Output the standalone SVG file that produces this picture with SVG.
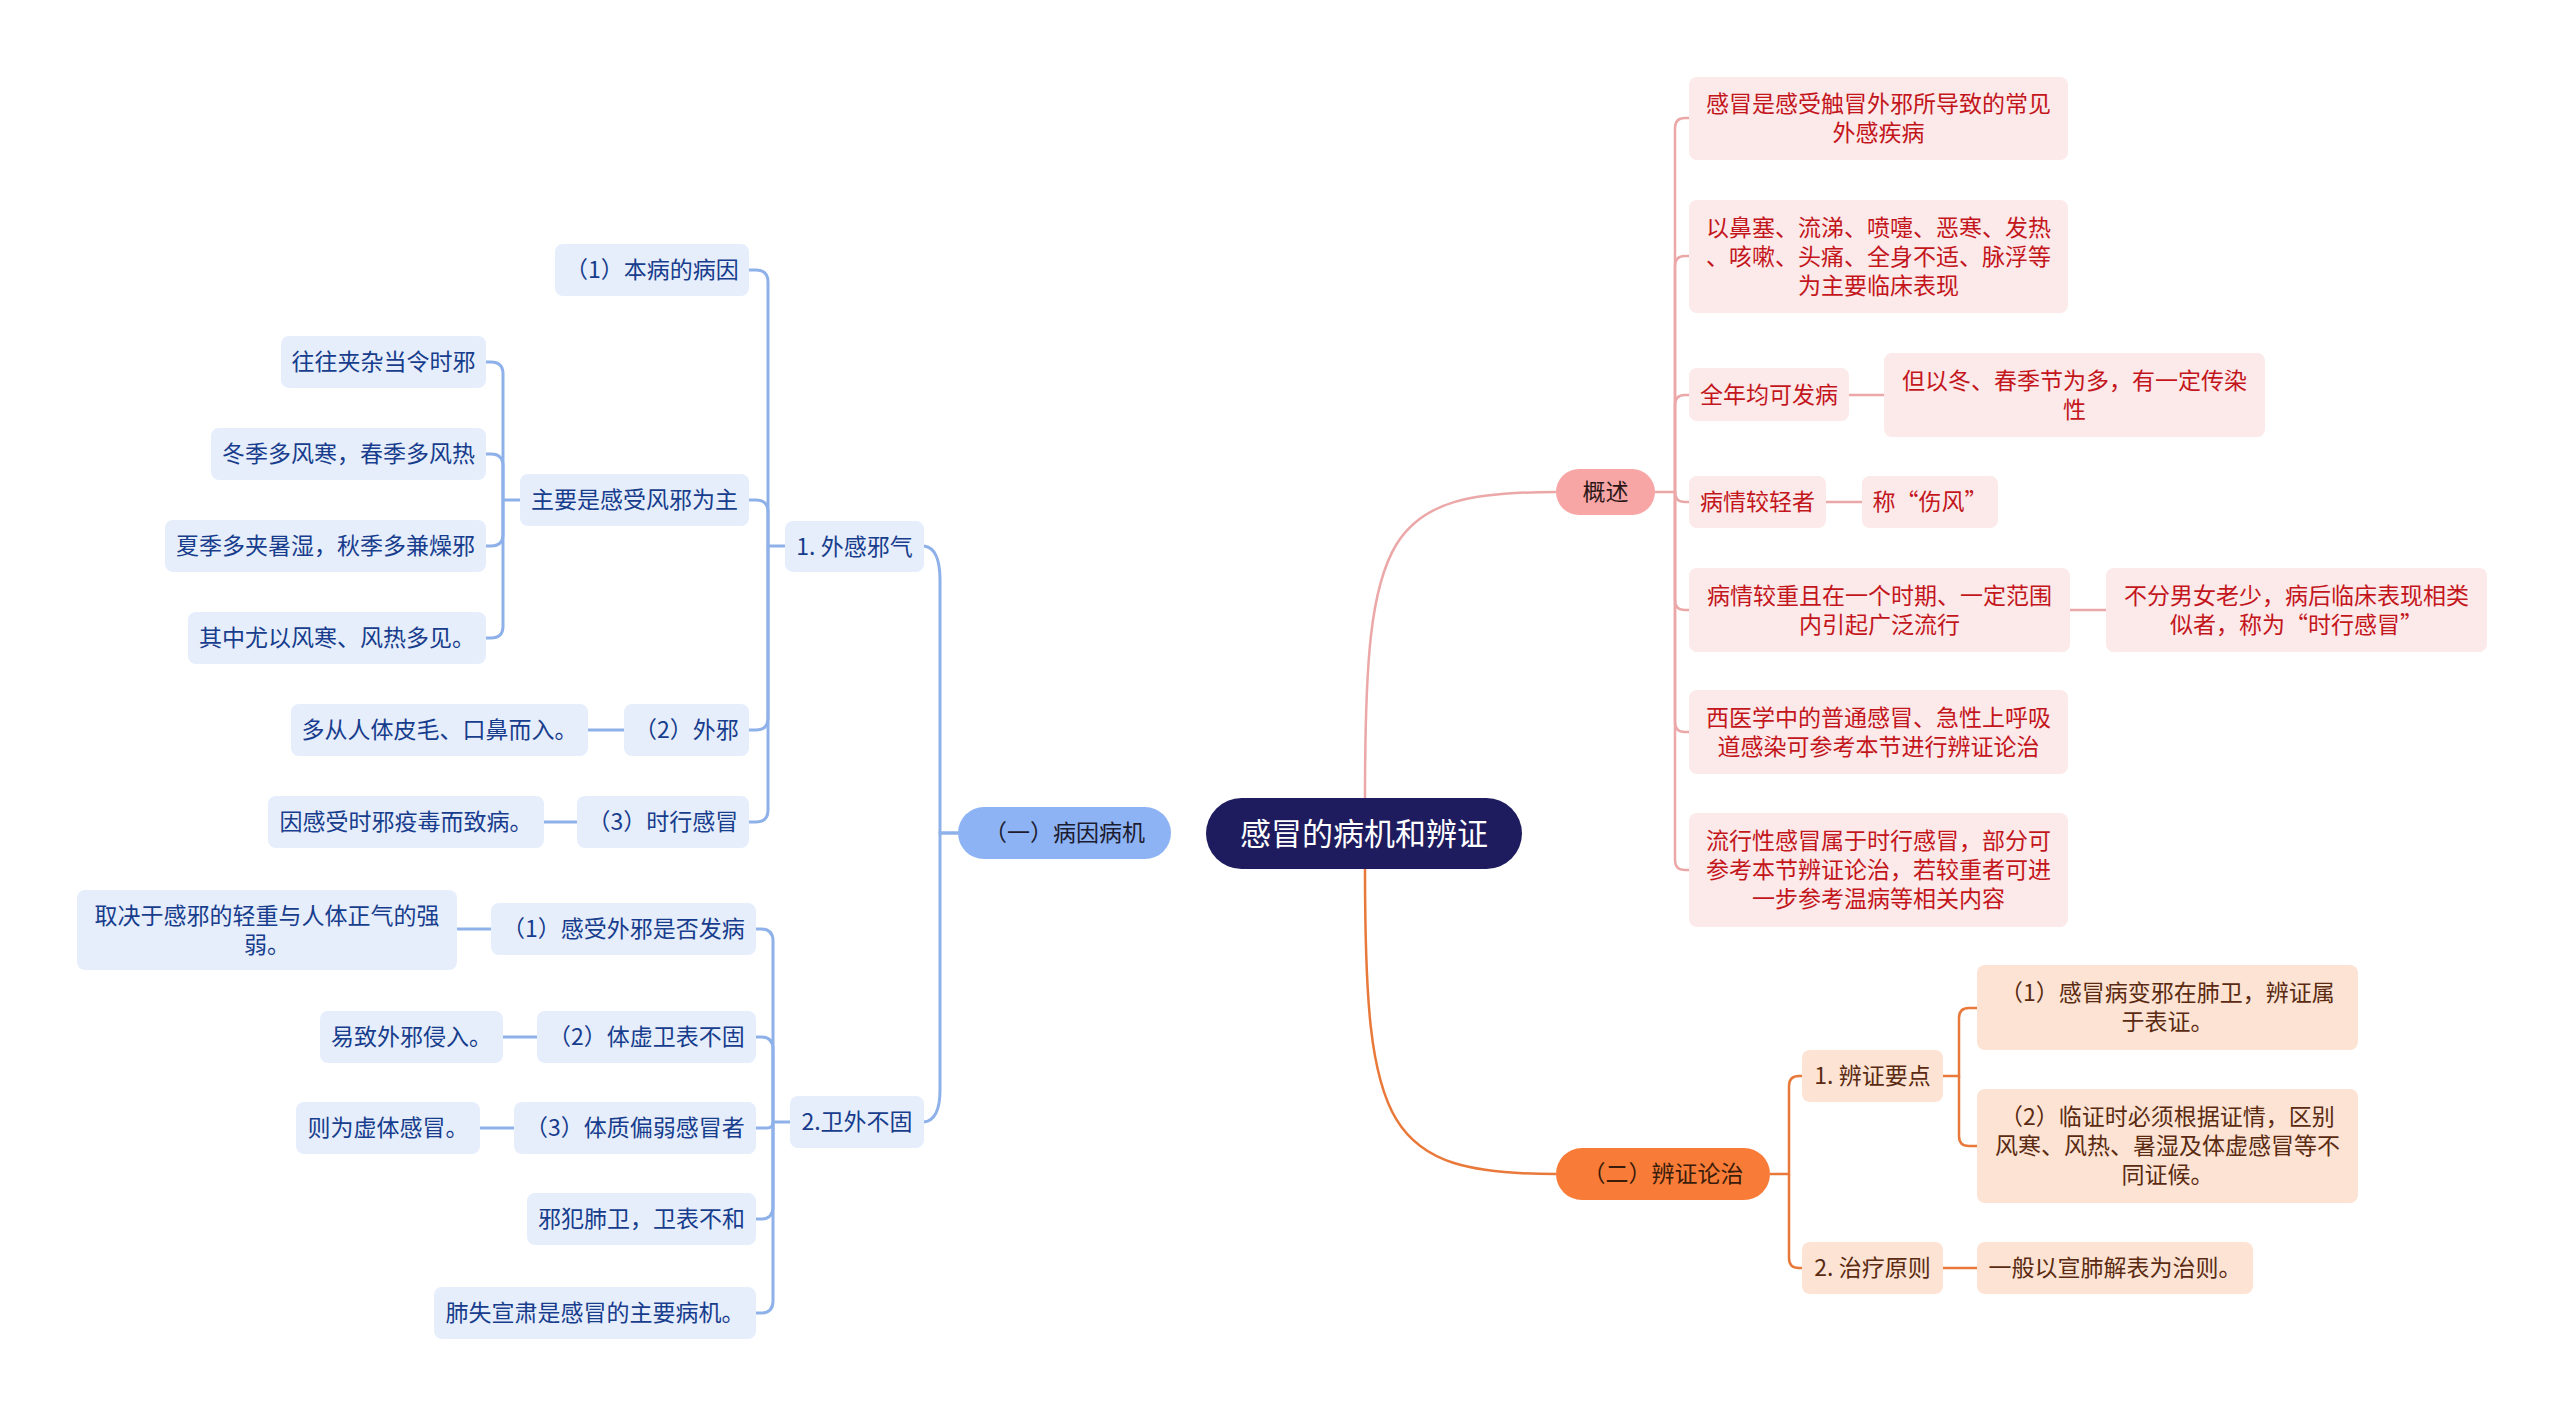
<svg xmlns="http://www.w3.org/2000/svg" width="2560" height="1417" viewBox="0 0 2560 1417">
<style>
text{font-family:"Noto Sans CJK SC","Noto Sans",sans-serif;font-size:23px;text-anchor:middle;dominant-baseline:central;transform:translate(0px,-2px)}
.root rect{fill:#1e1c5e}
.root text{fill:#ffffff;font-size:31px}
.mb rect{fill:#8db3f4}
.mb text{fill:#1c1c30}
.b rect{fill:#e6eefc}
.b text{fill:#173d8c}
.mp rect{fill:#f8a5a5}
.mp text{fill:#2a1616}
.p rect{fill:#fce9e9}
.p text{fill:#c3161c}
.mo rect{fill:#f87c37}
.mo text{fill:#3b1c0b}
.o rect{fill:#fde3d3}
.o text{fill:#5a2b12}
.lb path{stroke:#8fb1ea;stroke-width:3;fill:none}
.lp path{stroke:#eca8a8;stroke-width:2.5;fill:none}
.lo path{stroke:#e9793a;stroke-width:2.5;fill:none}
</style>
<rect width="2560" height="1417" fill="#ffffff"/>
<g id="connectors">
<g class="lb">
<path d="M958 833 H940 V580 Q940 548 924 546"/>
<path d="M958 833 H940 V1090 Q940 1120 924 1122"/>
<path d="M785 546 H768 V282 Q768 270 756 270 H749"/>
<path d="M768 546 V512 Q768 500 756 500 H749"/>
<path d="M768 546 V718 Q768 730 756 730 H749"/>
<path d="M768 546 V810 Q768 822 756 822 H749"/>
<path d="M520 500 H503 V374 Q503 362 491 362 H486"/>
<path d="M503 500 V466 Q503 454 491 454 H486"/>
<path d="M503 500 V534 Q503 546 491 546 H486"/>
<path d="M503 500 V626 Q503 638 491 638 H486"/>
<path d="M624 730 H588"/>
<path d="M577 822 H544"/>
<path d="M790 1122 H773 V941 Q773 929 761 929 H756"/>
<path d="M773 1122 V1049 Q773 1037 761 1037 H756"/>
<path d="M773 1122 Q773 1128 767 1128 H756"/>
<path d="M773 1122 V1207 Q773 1219 761 1219 H756"/>
<path d="M773 1122 V1301 Q773 1313 761 1313 H756"/>
<path d="M491 929 H457"/>
<path d="M537 1037 H503"/>
<path d="M514 1128 H480"/>
</g>
<g class="lp">
<path d="M1365 798 C1365 530 1385 492 1556 492"/>
<path d="M1655 492 H1675 V128 Q1675 118 1685 118 H1689"/>
<path d="M1675 492 V266 Q1675 256 1685 256 H1689"/>
<path d="M1675 492 V405 Q1675 395 1685 395 H1689"/>
<path d="M1675 492 Q1675 502 1685 502 H1689"/>
<path d="M1675 492 V600 Q1675 610 1685 610 H1689"/>
<path d="M1675 492 V722 Q1675 732 1685 732 H1689"/>
<path d="M1675 492 V860 Q1675 870 1685 870 H1689"/>
<path d="M1849 395 H1884"/>
<path d="M1826 502 H1862"/>
<path d="M2070 610 H2106"/>
</g>
<g class="lo">
<path d="M1365 869 C1365 1130 1385 1174 1556 1174"/>
<path d="M1770 1174 H1789 V1086 Q1789 1076 1799 1076 H1802"/>
<path d="M1789 1174 V1258 Q1789 1268 1799 1268 H1802"/>
<path d="M1943 1076 H1959 V1018 Q1959 1008 1969 1008 H1977"/>
<path d="M1959 1076 V1136 Q1959 1146 1969 1146 H1977"/>
<path d="M1943 1268 H1977"/>
</g>
</g>

<g id="root" class="root"><rect x="1206" y="798" width="316" height="71" rx="35.5"/><text x="1364" y="833.5">感冒的病机和辨证</text></g>

<g id="n-bingyin" class="mb"><rect x="958" y="807" width="213" height="52" rx="26"/><text x="1064.5" y="833">（一）病因病机</text></g>
<g id="n-waigan" class="b"><rect x="785" y="521" width="139" height="51" rx="8"/><text x="854.5" y="546.5">1. 外感邪气</text></g>
<g id="n-benbing" class="b"><rect x="555" y="244" width="194" height="52" rx="8"/><text x="652" y="270">（1）本病的病因</text></g>
<g id="n-zhuyao" class="b"><rect x="520" y="474" width="229" height="52" rx="8"/><text x="634.5" y="500">主要是感受风邪为主</text></g>
<g id="n-wangwang" class="b"><rect x="281" y="336" width="205" height="52" rx="8"/><text x="383.5" y="362">往往夹杂当令时邪</text></g>
<g id="n-dongji" class="b"><rect x="211" y="428" width="275" height="52" rx="8"/><text x="348.5" y="454">冬季多风寒，春季多风热</text></g>
<g id="n-xiaji" class="b"><rect x="165" y="520" width="321" height="52" rx="8"/><text x="325.5" y="546">夏季多夹暑湿，秋季多兼燥邪</text></g>
<g id="n-qizhong" class="b"><rect x="188" y="612" width="298" height="52" rx="8"/><text x="337" y="638">其中尤以风寒、风热多见。</text></g>
<g id="n-waixie" class="b"><rect x="624" y="704" width="125" height="52" rx="8"/><text x="686.5" y="730">（2）外邪</text></g>
<g id="n-duocong" class="b"><rect x="291" y="704" width="297" height="52" rx="8"/><text x="439.5" y="730">多从人体皮毛、口鼻而入。</text></g>
<g id="n-shixing" class="b"><rect x="577" y="796" width="172" height="52" rx="8"/><text x="663" y="822">（3）时行感冒</text></g>
<g id="n-yingan" class="b"><rect x="268" y="796" width="276" height="52" rx="8"/><text x="406" y="822">因感受时邪疫毒而致病。</text></g>

<g id="n-weiwai" class="b"><rect x="790" y="1096" width="134" height="52" rx="8"/><text x="857" y="1122">2.卫外不固</text></g>
<g id="n-ganshou" class="b"><rect x="491" y="903" width="265" height="52" rx="8"/><text x="623.5" y="929">（1）感受外邪是否发病</text></g>
<g id="n-qujue" class="b"><rect x="77" y="890" width="380" height="80" rx="8"/><text x="267" y="915.5">取决于感邪的轻重与人体正气的强</text><text x="267" y="944.5">弱。</text></g>
<g id="n-tixu" class="b"><rect x="537" y="1011" width="219" height="52" rx="8"/><text x="646.5" y="1037">（2）体虚卫表不固</text></g>
<g id="n-yizhi" class="b"><rect x="320" y="1011" width="183" height="52" rx="8"/><text x="411.5" y="1037">易致外邪侵入。</text></g>
<g id="n-tizhi" class="b"><rect x="514" y="1102" width="242" height="52" rx="8"/><text x="635" y="1128">（3）体质偏弱感冒者</text></g>
<g id="n-zewei" class="b"><rect x="296" y="1102" width="184" height="52" rx="8"/><text x="388" y="1128">则为虚体感冒。</text></g>
<g id="n-xiefan" class="b"><rect x="527" y="1193" width="229" height="52" rx="8"/><text x="641.5" y="1219">邪犯肺卫，卫表不和</text></g>
<g id="n-feishi" class="b"><rect x="434" y="1287" width="322" height="52" rx="8"/><text x="595" y="1313">肺失宣肃是感冒的主要病机。</text></g>

<g id="n-gaishu" class="mp"><rect x="1556" y="469" width="99" height="46" rx="23"/><text x="1605.5" y="492">概述</text></g>
<g id="n-p1" class="p"><rect x="1689" y="77" width="379" height="83" rx="8"/><text x="1878.5" y="104">感冒是感受触冒外邪所导致的常见</text><text x="1878.5" y="133">外感疾病</text></g>
<g id="n-p2" class="p"><rect x="1689" y="200" width="379" height="113" rx="8"/><text x="1878.5" y="227.5">以鼻塞、流涕、喷嚏、恶寒、发热</text><text x="1878.5" y="256.5">、咳嗽、头痛、全身不适、脉浮等</text><text x="1878.5" y="285.5">为主要临床表现</text></g>
<g id="n-p3" class="p"><rect x="1689" y="368" width="160" height="53" rx="8"/><text x="1769" y="394.5">全年均可发病</text></g>
<g id="n-p3a" class="p"><rect x="1884" y="353" width="381" height="84" rx="8"/><text x="2074.5" y="380.5">但以冬、春季节为多，有一定传染</text><text x="2074.5" y="409.5">性</text></g>
<g id="n-p4" class="p"><rect x="1689" y="476" width="137" height="52" rx="8"/><text x="1757.5" y="502">病情较轻者</text></g>
<g id="n-p4a" class="p"><rect x="1862" y="476" width="136" height="52" rx="8"/><text x="1930" y="502">称“伤风”</text></g>
<g id="n-p5" class="p"><rect x="1689" y="568" width="381" height="84" rx="8"/><text x="1879.5" y="595.5">病情较重且在一个时期、一定范围</text><text x="1879.5" y="624.5">内引起广泛流行</text></g>
<g id="n-p5a" class="p"><rect x="2106" y="568" width="381" height="84" rx="8"/><text x="2296.5" y="595.5">不分男女老少，病后临床表现相类</text><text x="2296.5" y="624.5">似者，称为“时行感冒”</text></g>
<g id="n-p6" class="p"><rect x="1689" y="690" width="379" height="84" rx="8"/><text x="1878.5" y="717.5">西医学中的普通感冒、急性上呼吸</text><text x="1878.5" y="746.5">道感染可参考本节进行辨证论治</text></g>
<g id="n-p7" class="p"><rect x="1689" y="813" width="379" height="114" rx="8"/><text x="1878.5" y="841">流行性感冒属于时行感冒，部分可</text><text x="1878.5" y="870">参考本节辨证论治，若较重者可进</text><text x="1878.5" y="899">一步参考温病等相关内容</text></g>

<g id="n-bianzheng" class="mo"><rect x="1556" y="1148" width="214" height="52" rx="26"/><text x="1663" y="1174">（二）辨证论治</text></g>
<g id="n-yaodian" class="o"><rect x="1802" y="1050" width="141" height="52" rx="8"/><text x="1872.5" y="1076">1. 辨证要点</text></g>
<g id="n-o1a" class="o"><rect x="1977" y="965" width="381" height="85" rx="8"/><text x="2167.5" y="993">（1）感冒病变邪在肺卫，辨证属</text><text x="2167.5" y="1022">于表证。</text></g>
<g id="n-o1b" class="o"><rect x="1977" y="1089" width="381" height="114" rx="8"/><text x="2167.5" y="1117">（2）临证时必须根据证情，区别</text><text x="2167.5" y="1146">风寒、风热、暑湿及体虚感冒等不</text><text x="2167.5" y="1175">同证候。</text></g>
<g id="n-yuanze" class="o"><rect x="1802" y="1242" width="141" height="52" rx="8"/><text x="1872.5" y="1268">2. 治疗原则</text></g>
<g id="n-o2a" class="o"><rect x="1977" y="1242" width="276" height="52" rx="8"/><text x="2115" y="1268">一般以宣肺解表为治则。</text></g>
</svg>
